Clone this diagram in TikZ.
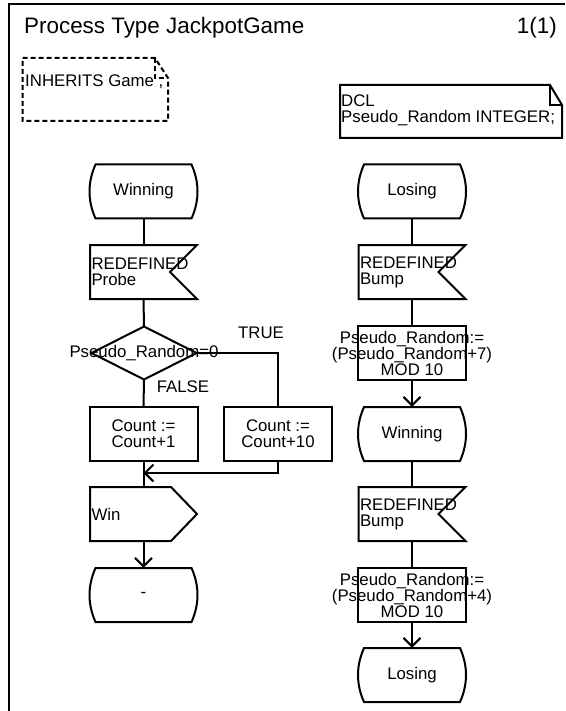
\documentclass[tikz,border=0pt]{standalone}
\usepackage{fontspec}
\setmainfont{Liberation Sans}
\usetikzlibrary{calc,arrows.meta}
\begin{document}
\begin{tikzpicture}[x=1pt,y=-1pt,
  every node/.style={font=\fontsize{16.8}{16}\selectfont, inner sep=0pt},
  ln/.style={line width=2pt, line join=miter},
  arr/.style={ln, -{Straight Barb[length=8.5pt,width=17pt]}},
  sym/.style={minimum width=108pt, minimum height=54pt, align=center},
  tight/.style={font=\fontsize{16.8}{16}\selectfont},
  sigtext/.style={minimum height=54pt, text width=104pt, inner xsep=1.5pt, align=left,
                  font=\fontsize{16.8}{16}\selectfont},
  note/.style={align=left, anchor=north west},
  dashedline/.style={line width=2pt, dash pattern=on 5pt off 3pt}
]
\useasboundingbox (0,0) rectangle (565,711);

% page frame and heading
\draw[line width=2.6pt] (565,4) -- (9,4) -- (9,711);
\node[anchor=base west, font=\fontsize{22.4}{26}\selectfont] (title) at (24,34) {Process Type JackpotGame};
\node[anchor=base east, font=\fontsize{22.4}{26}\selectfont] (page) at (557,34) {1(1)};

% text symbols
\draw[dashedline] (22.5,58) -- (155,58) -- (168,78) -- (168,121) -- (22.5,121) -- cycle;
\draw[dashedline] (155,58) -- (155,78) -- (168,78);
\node[note] (inherits) at (25,75) {INHERITS Game ;};

\draw[ln] (340,85) -- (550,85) -- (562,105) -- (562,138) -- (340,138) -- cycle;
\draw[ln] (550,85) -- (550,105) -- (562,105);
\node[note] (dcl) at (341,94.2) {DCL\\Pseudo\_Random INTEGER;};

% left transition
\node[sym] (winL) at (143.5,191.5) {Winning};
\node[sigtext] (probe) at (143.5,272) {REDEFINED\\Probe};
\node[sym, minimum width=105pt, minimum height=53pt] (dec) at (144,353) {Pseudo\_Random=0};
\node[sym, tight] (c1) at (143.5,434) {Count :=\\Count+1};
\node[sym, tight] (c10) at (278,434) {Count :=\\Count+10};
\node[sigtext] (win) at (143.5,514) {Win};
\node[sym] (dashst) at (143.5,595) {-};
\node[anchor=base] (tlabel) at (261,338) {TRUE};
\node[anchor=base] (flabel) at (183,392) {FALSE};

% right transitions
\node[sym] (losA) at (412,191.5) {Losing};
\node[sigtext] (bump1) at (412,272) {REDEFINED\\Bump};
\node[sym] (upd7) at (412,353) {Pseudo\_Random:=\\(Pseudo\_Random+7)\\MOD 10};
\node[sym] (winR) at (412,434) {Winning};
\node[sigtext] (bump2) at (412,514) {REDEFINED\\Bump};
\node[sym] (upd4) at (412,595) {Pseudo\_Random:=\\(Pseudo\_Random+4)\\MOD 10};
\node[sym] (losB) at (412,675) {Losing};

% state outlines
\foreach \n in {winL,dashst,losA,winR,losB}
  \draw[ln] ($(\n)+(-48,-27)$) -- ($(\n)+(48,-27)$)
    .. controls ($(\n)+(56,-9)$) and ($(\n)+(56,9)$) .. ($(\n)+(48,27)$)
    -- ($(\n)+(-48,27)$)
    .. controls ($(\n)+(-56,9)$) and ($(\n)+(-56,-9)$) .. cycle;

% input outlines
\foreach \n in {probe,bump1,bump2}
  \draw[ln] ($(\n)+(-53.5,-27)$) -- ($(\n)+(53.5,-27)$) -- ($(\n)+(26.5,0)$)
    -- ($(\n)+(53.5,27)$) -- ($(\n)+(-53.5,27)$) -- cycle;

% output outline
\draw[ln] ($(win)+(-53.5,-27)$) -- ($(win)+(27.5,-27)$) -- ($(win)+(53.5,0)$)
  -- ($(win)+(27.5,27)$) -- ($(win)+(-53.5,27)$) -- cycle;

% task outlines
\foreach \n in {c1,c10,upd7,upd4}
  \draw[ln] ($(\n)+(-54,-27)$) rectangle ($(\n)+(54,27)$);

% decision outline
\draw[ln] ($(dec)+(0,-26.5)$) -- ($(dec)+(52.5,0)$) -- ($(dec)+(0,26.5)$)
  -- ($(dec)+(-52.5,0)$) -- cycle;

% flow lines, left
\coordinate (decE) at ($(dec)+(52.5,0)$);
\coordinate (join) at (143.5,473);
\draw[ln] (winL.south) -- (probe.north);
\draw[ln] (probe.south) -- (dec.north);
\draw[ln] (dec.south) -- (c1.north);
\draw[ln] (decE) -| (c10.north);
\draw[ln] (c1.south) -- (win.north);
\draw[arr] (c10.south) |- (join);
\draw[arr] (win.south) -- (dashst.north);

% flow lines, right
\draw[ln] (losA.south) -- (bump1.north);
\draw[ln] (bump1.south) -- (upd7.north);
\draw[arr] (upd7.south) -- (winR.north);
\draw[ln] (winR.south) -- (bump2.north);
\draw[ln] (bump2.south) -- (upd4.north);
\draw[arr] (upd4.south) -- (losB.north);
\end{tikzpicture}
\end{document}
